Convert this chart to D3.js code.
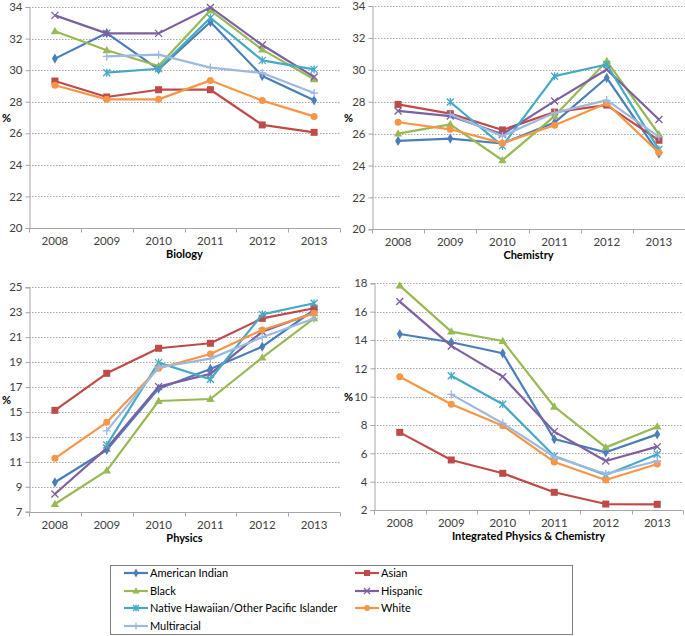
<!DOCTYPE html>
<html>
<head>
<meta charset="utf-8">
<script src="https://cdn.jsdelivr.net/npm/d3@7"></script>
<style>
  html, body { margin: 0; padding: 0; background: #fff; }
  svg { display: block; }
  text { font-family: Lato, "Open Sans", sans-serif; }
</style>
</head>
<body>
<svg id="chart" width="685" height="636"></svg>
<script>
// ---------- data ----------
const years = ["2008", "2009", "2010", "2011", "2012", "2013"];
const seriesNames = ["American Indian", "Asian", "Black", "Hispanic",
  "Native Hawaiian/Other Pacific Islander", "White", "Multiracial"];
const seriesColors = ["#4A7EBB", "#BE4B48", "#98B954", "#7D60A0", "#46AAC5", "#F79646", "#9DB9DF"];
const seriesMarkers = ["diamond", "square", "triangle", "x", "asterisk", "circle", "plus"];

// values per subject, rows in seriesNames order, columns in years order (%)
const biology = [
  [30.73, 32.35, 30.05, 33.05, 29.63, 28.09],
  [29.31, 28.30, 28.76, 28.76, 26.53, 26.06],
  [32.46, 31.26, 30.26, 33.79, 31.30, 29.42],
  [33.47, 32.33, 32.33, 33.97, 31.59, 29.57],
  [null, 29.84, 30.09, 33.32, 30.62, 30.05],
  [29.04, 28.15, 28.15, 29.35, 28.07, 27.07],
  [null, 30.87, 30.98, 30.16, 29.82, 28.55]
];
const chemistry = [
  [25.54, 25.69, 25.38, 26.69, 29.50, 24.75],
  [27.83, 27.25, 26.23, 27.35, 27.79, 25.58],
  [26.00, 26.58, 24.33, 27.10, 30.54, 25.96],
  [27.42, 27.10, 25.96, 28.04, 30.02, 26.88],
  [null, 27.98, 25.23, 29.60, 30.33, 25.00],
  [26.71, 26.27, 25.40, 26.52, 27.90, 24.81],
  [null, 27.20, 25.85, 27.30, 28.10, 25.80]
];
const physics = [
  [9.36, 11.95, 16.87, 18.45, 20.24, 23.18],
  [15.13, 18.10, 20.11, 20.51, 22.51, 23.32],
  [7.62, 10.30, 15.88, 16.04, 19.36, 22.51],
  [8.42, 12.10, 17.03, 18.05, 21.44, 22.97],
  [null, 12.35, 18.96, 17.62, 22.83, 23.72],
  [11.28, 14.17, 18.50, 19.65, 21.58, 22.91],
  [null, 13.48, 18.58, 19.28, 20.99, 22.50]
];
const ipc = [
  [14.42, 13.84, 13.06, 7.01, 6.07, 7.34],
  [7.48, 5.53, 4.59, 3.25, 2.42, 2.40],
  [17.84, 14.59, 13.93, 9.29, 6.42, 7.88],
  [16.71, 13.58, 11.41, 7.53, 5.46, 6.47],
  [null, 11.48, 9.46, 5.81, 4.47, 5.93],
  [11.41, 9.46, 7.95, 5.39, 4.12, 5.25],
  [null, 10.16, 8.12, 5.76, 4.54, 5.46]
];
const ticksBioChem = [20, 22, 24, 26, 28, 30, 32, 34];
const ticksPhysics = [7, 9, 11, 13, 15, 17, 19, 21, 23, 25];
const ticksIpc = [2, 4, 6, 8, 10, 12, 14, 16, 18];

// ---------- layout ----------
const panels = [
  { title: "Biology", data: biology, ticks: ticksBioChem, domain: [20, 34],
    x0: 29, x1: 340, yb: 228, yt: 7, labelX: 22, pctX: 2 },
  { title: "Chemistry", data: chemistry, ticks: ticksBioChem, domain: [20, 34],
    x0: 372, x1: 685, yb: 229.3, yt: 6, labelX: 366, pctX: 344 },
  { title: "Physics", data: physics, ticks: ticksPhysics, domain: [7, 25],
    x0: 29, x1: 340, yb: 511.7, yt: 287.3, labelX: 22, pctX: 2 },
  { title: "Integrated Physics & Chemistry", data: ipc, ticks: ticksIpc, domain: [2, 18],
    x0: 374, x1: 683, yb: 510, yt: 283.3, labelX: 366, pctX: 344 }
];

const svg = d3.select("#chart");

function drawMarker(g, type, color, cx, cy, s) {
  const r = s / 2;
  if (type === "diamond") {
    g.append("path").attr("d", d3.symbol(d3.symbolDiamond, s * s * 0.62)())
      .attr("transform", `translate(${cx},${cy})`).attr("fill", color);
  } else if (type === "square") {
    g.append("rect").attr("x", cx - r).attr("y", cy - r).attr("width", s).attr("height", s)
      .attr("fill", color);
  } else if (type === "triangle") {
    g.append("path").attr("d", d3.symbol(d3.symbolTriangle, s * s * 0.62)())
      .attr("transform", `translate(${cx},${cy + 0.5})`).attr("fill", color);
  } else if (type === "circle") {
    g.append("circle").attr("cx", cx).attr("cy", cy).attr("r", r).attr("fill", color);
  } else {
    const p = d3.path();
    if (type === "x" || type === "asterisk") {
      p.moveTo(cx - r, cy - r); p.lineTo(cx + r, cy + r);
      p.moveTo(cx - r, cy + r); p.lineTo(cx + r, cy - r);
    }
    if (type === "asterisk" || type === "plus") {
      p.moveTo(cx, cy - r - 0.5); p.lineTo(cx, cy + r + 0.5);
    }
    if (type === "plus") {
      p.moveTo(cx - r - 0.5, cy); p.lineTo(cx + r + 0.5, cy);
    }
    g.append("path").attr("d", p.toString()).attr("stroke", color)
      .attr("stroke-width", 1.3).attr("fill", "none");
  }
}

panels.forEach(pn => {
  const g = svg.append("g");
  const x = d3.scaleBand().domain(years).range([pn.x0, pn.x1]);
  const y = d3.scaleLinear().domain(pn.domain).range([pn.yb, pn.yt]);

  // gridlines
  g.append("g").selectAll("line").data(pn.ticks.filter(t => t !== pn.domain[0])).join("line")
    .attr("x1", pn.x0).attr("x2", pn.x1)
    .attr("y1", d => Math.round(y(d)) + 0.5).attr("y2", d => Math.round(y(d)) + 0.5)
    .attr("stroke", "#A6A6A6").attr("stroke-width", 1).attr("stroke-dasharray", "1.5,1.5");

  // y axis
  const yAxis = d3.axisLeft(y).tickValues(pn.ticks).tickSize(4).tickPadding(3).tickFormat(d3.format("d"));
  const ya = g.append("g").attr("transform", `translate(${pn.x0 + 0.5},0)`).call(yAxis);
  ya.select(".domain").attr("stroke", "#A6A6A6");
  ya.selectAll(".tick line").attr("stroke", "#A6A6A6");
  ya.selectAll(".tick text").attr("font-size", 11.5).attr("fill", "#404040")
    .attr("font-family", "Lato, 'Open Sans', sans-serif");

  // x axis baseline and band ticks
  const xb = Math.round(pn.yb) + 0.5;
  g.append("line").attr("x1", pn.x0).attr("x2", pn.x1).attr("y1", xb).attr("y2", xb)
    .attr("stroke", "#A6A6A6");
  const edges = years.map(d => x(d)).concat([x(years[years.length - 1]) + x.bandwidth()]);
  g.append("g").selectAll("line").data(edges).join("line")
    .attr("x1", d => Math.round(d) + 0.5).attr("x2", d => Math.round(d) + 0.5)
    .attr("y1", xb).attr("y2", xb + 4).attr("stroke", "#A6A6A6");
  g.append("g").selectAll("text").data(years).join("text")
    .attr("x", d => x(d) + x.bandwidth() / 2).attr("y", pn.yb + 17)
    .attr("text-anchor", "middle").attr("font-size", 11.5).attr("fill", "#404040").text(d => d);

  // titles
  g.append("text").attr("x", (pn.x0 + pn.x1) / 2).attr("y", pn.yb + 30)
    .attr("text-anchor", "middle").attr("font-size", 11).attr("font-weight", "bold")
    .attr("fill", "#000").text(pn.title);
  g.append("text").attr("x", pn.pctX).attr("y", (pn.yb + pn.yt) / 2 + 4)
    .attr("font-size", 11).attr("font-weight", "bold").attr("fill", "#000").text("%");

  // series
  const line = d3.line().defined(d => d.v !== null)
    .x(d => x(d.year) + x.bandwidth() / 2).y(d => y(d.v));
  pn.data.forEach((vals, si) => {
    const pts = years.map((yr, i) => ({ year: yr, v: vals[i] }));
    const sg = g.append("g");
    sg.append("path").datum(pts).attr("d", line).attr("fill", "none")
      .attr("stroke", seriesColors[si]).attr("stroke-width", 2.2).attr("stroke-linejoin", "round");
    pts.filter(d => d.v !== null).forEach(d => {
      drawMarker(sg, seriesMarkers[si], seriesColors[si], x(d.year) + x.bandwidth() / 2, y(d.v), 7);
    });
  });
});

// ---------- legend ----------
const lg = svg.append("g");
lg.append("rect").attr("x", 110.5).attr("y", 565.5).attr("width", 462).attr("height", 69)
  .attr("fill", "#fff").attr("stroke", "#7F7F7F").attr("stroke-width", 1);
const legendCols = [124, 355];
const legendRows = [573, 591, 608, 626];
seriesNames.forEach((name, i) => {
  const cx = legendCols[i % 2], cy = legendRows[Math.floor(i / 2)];
  lg.append("line").attr("x1", cx).attr("x2", cx + 24).attr("y1", cy).attr("y2", cy)
    .attr("stroke", seriesColors[i]).attr("stroke-width", 2.2);
  drawMarker(lg, seriesMarkers[i], seriesColors[i], cx + 12, cy, 6);
  lg.append("text").attr("x", cx + 26).attr("y", cy + 4).attr("font-size", 11)
    .attr("fill", "#000").text(name);
});
</script>
</body>
</html>
